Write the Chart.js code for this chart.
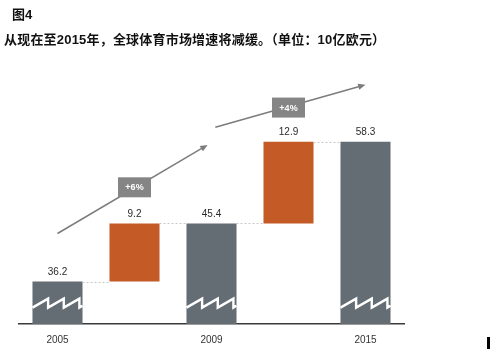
<!DOCTYPE html>
<html>
<head>
<meta charset="utf-8">
<script src="https://cdn.jsdelivr.net/npm/chart.js@4.4.0/dist/chart.umd.min.js"></script>
<style>
  html, body { margin: 0; padding: 0; background: #fff; }
  #wrap { position: relative; width: 490px; height: 350px; overflow: hidden; }
  #chart { position: absolute; left: 0; top: 0; }
  .title { position: absolute; font-family: "Liberation Sans", "Noto Sans CJK SC", sans-serif; font-weight: bold; color: #111; white-space: nowrap; }
  #fig { left: 12px; top: 4px; font-size: 13px; }
  #sub { left: 4px; top: 29px; font-size: 13px; letter-spacing: 0.2px; }
  #mark { position: absolute; left: 487px; top: 337px; width: 3px; height: 12px; background: #000; }
</style>
</head>
<body>
<div id="wrap">
  <canvas id="chart" width="490" height="370"></canvas>
  <div class="title" id="fig">图4</div>
  <div class="title" id="sub">从现在至2015年，全球体育市场增速将减缓。（单位：10亿欧元）</div>
  <div id="mark"></div>
</div>
<script>
// market size, billion euro
const categories = ['2005', '', '2009', '', '2015'];
const values = [36.2, 9.2, 45.4, 12.9, 58.3];
const isTotal = [true, false, true, false, true];
const growthLabels = ['+6%', '+4%'];

const GRAY = '#646d74';
const ORANGE = '#c45a26';
const Y_MIN = 29.5;
const Y_MAX = 70.9;

// build floating bars for the waterfall
const floating = [];
let running = 0;
values.forEach((v, i) => {
  if (isTotal[i]) {
    floating.push([Y_MIN, v]);
    running = v;
  } else {
    floating.push([running, running + v]);
  }
});

// dotted connectors, value labels and axis-break zigzags
const waterfallDecor = {
  id: 'waterfallDecor',
  afterDatasetsDraw(chart) {
    const ctx = chart.ctx;
    const meta = chart.getDatasetMeta(0);
    const y = chart.scales.y;
    ctx.save();

    // connectors
    ctx.strokeStyle = '#c8c8c8';
    ctx.lineWidth = 1;
    ctx.setLineDash([2, 2]);
    for (let i = 0; i < meta.data.length - 1; i++) {
      const a = meta.data[i], b = meta.data[i + 1];
      const py = Math.round(y.getPixelForValue(floating[i][1])) + 0.5;
      ctx.beginPath();
      ctx.moveTo(a.x + a.width / 2, py);
      ctx.lineTo(b.x - b.width / 2, py);
      ctx.stroke();
    }
    ctx.setLineDash([]);

    // value labels
    ctx.fillStyle = '#2a2a2a';
    ctx.font = '10px "Liberation Sans", Arial, sans-serif';
    ctx.textAlign = 'center';
    ctx.textBaseline = 'middle';
    meta.data.forEach((bar, i) => {
      ctx.fillText(values[i].toFixed(1), bar.x, bar.y - 9);
    });

    // zigzag break on total bars
    const zy = y.getPixelForValue(32.8);
    const amp = 4.5;
    ctx.strokeStyle = '#fff';
    ctx.lineWidth = 2.4;
    ctx.lineJoin = 'miter';
    meta.data.forEach((bar, i) => {
      if (!isTotal[i]) return;
      const left = bar.x - bar.width / 2;
      const right = bar.x + bar.width / 2;
      const tooth = bar.width / 3.2;
      ctx.beginPath();
      ctx.moveTo(left, zy + amp);
      let x = left;
      while (x + tooth <= right) {
        ctx.lineTo(x + tooth, zy - amp);
        ctx.lineTo(x + tooth, zy + amp);
        x += tooth;
      }
      const rest = right - x;
      ctx.lineTo(right, zy + amp - (2 * amp) * rest / tooth);
      ctx.stroke();
    });
    ctx.restore();
  }
};

// growth arrows with labelled boxes (data coordinates: category index, value)
const growthArrows = {
  id: 'growthArrows',
  afterDatasetsDraw(chart, args, opts) {
    const ctx = chart.ctx;
    const xs = chart.scales.x, ys = chart.scales.y;
    ctx.save();
    opts.arrows.forEach((a, k) => {
      const x1 = xs.getPixelForValue(a.from[0]), y1 = ys.getPixelForValue(a.from[1]);
      const x2 = xs.getPixelForValue(a.to[0]), y2 = ys.getPixelForValue(a.to[1]);
      ctx.strokeStyle = '#7c7c7c';
      ctx.fillStyle = '#7c7c7c';
      ctx.lineWidth = 1.5;
      const ang = Math.atan2(y2 - y1, x2 - x1);
      const head = 8;
      ctx.beginPath();
      ctx.moveTo(x1, y1);
      ctx.lineTo(x2 - Math.cos(ang) * head * 0.8, y2 - Math.sin(ang) * head * 0.8);
      ctx.stroke();
      ctx.beginPath();
      ctx.moveTo(x2, y2);
      ctx.lineTo(x2 - head * Math.cos(ang - 0.4), y2 - head * Math.sin(ang - 0.4));
      ctx.lineTo(x2 - head * Math.cos(ang + 0.4), y2 - head * Math.sin(ang + 0.4));
      ctx.closePath();
      ctx.fill();

      const bx = xs.getPixelForValue(a.box[0]), by = ys.getPixelForValue(a.box[1]);
      ctx.fillStyle = '#858585';
      ctx.fillRect(bx - 16.5, by - 10, 33, 20);
      ctx.fillStyle = '#fff';
      ctx.font = 'bold 9px "Liberation Sans", Arial, sans-serif';
      ctx.textAlign = 'center';
      ctx.textBaseline = 'middle';
      ctx.fillText(growthLabels[k], bx, by + 0.5);
    });
    ctx.restore();
  }
};

new Chart(document.getElementById('chart').getContext('2d'), {
  type: 'bar',
  data: {
    labels: categories,
    datasets: [{
      data: floating,
      backgroundColor: isTotal.map(t => t ? GRAY : ORANGE),
      borderWidth: 0,
      borderSkipped: false,
      categoryPercentage: 1,
      barPercentage: 0.65
    }]
  },
  options: {
    responsive: false,
    animation: false,
    layout: { padding: { left: 19, right: 86, top: 62, bottom: 14 } },
    scales: {
      x: {
        grid: { display: false, drawTicks: false },
        border: { display: true, color: '#3a3a3a', width: 1.5 },
        ticks: {
          color: '#333',
          padding: 10,
          font: { family: '"Liberation Sans", Arial, sans-serif', size: 10 },
          maxRotation: 0,
          autoSkip: false
        }
      },
      y: {
        display: false,
        min: Y_MIN,
        max: Y_MAX
      }
    },
    plugins: {
      legend: { display: false },
      tooltip: { enabled: false },
      growthArrows: {
        arrows: [
          { from: [0, 43.8], to: [1.95, 57.8], box: [1, 51.1] },
          { from: [2.05, 60.6], to: [4, 67.3], box: [3, 63.7] }
        ]
      }
    }
  },
  plugins: [waterfallDecor, growthArrows]
});
</script>
</body>
</html>
